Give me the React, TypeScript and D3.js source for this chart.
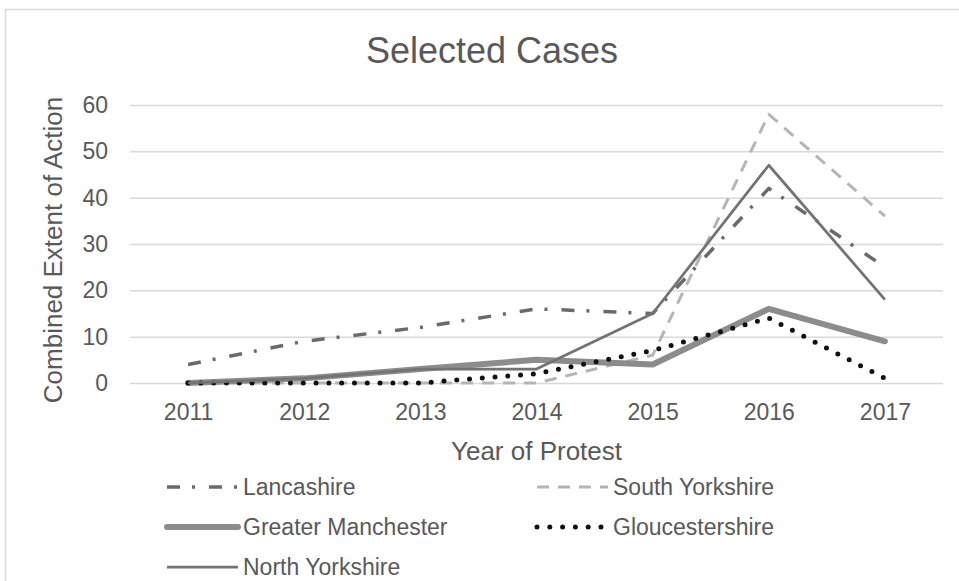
import React, { useEffect, useRef } from "react";
import * as d3 from "d3";

const years = ["2011", "2012", "2013", "2014", "2015", "2016", "2017"];
const seriesNames = [
  "Lancashire",
  "South Yorkshire",
  "Greater Manchester",
  "Gloucestershire",
  "North Yorkshire"
];
const lancashire = [4, 9, 12, 16, 15, 42, 25];
const southYorkshire = [0, 0, 0, 0, 6, 58, 36];
const greaterManchester = [0, 1, 3, 5, 4, 16, 9];
const gloucestershire = [0, 0, 0, 2, 7, 14, 1];
const northYorkshire = [0, 1, 3, 3, 15, 47, 18];
const yTicks = [0, 10, 20, 30, 40, 50, 60];

const seriesValues: Record<string, number[]> = {
  Lancashire: lancashire,
  "South Yorkshire": southYorkshire,
  "Greater Manchester": greaterManchester,
  Gloucestershire: gloucestershire,
  "North Yorkshire": northYorkshire
};

// look of each line (legend uses the same)
const lineStyles: Record<string, any> = {
  Lancashire: { stroke: "#6a6a6a", width: 3.5, dash: "13 12 3 14", cap: "butt" },
  "South Yorkshire": { stroke: "#b5b5b5", width: 3, dash: "12 9", cap: "butt" },
  "Greater Manchester": { stroke: "#8c8c8c", width: 6, dash: null, cap: "round" },
  Gloucestershire: { stroke: "#111111", width: 5, dash: "0 12.8", cap: "round" },
  "North Yorkshire": { stroke: "#737373", width: 2.75, dash: null, cap: "butt" }
};

const FONT = "'Liberation Sans', Arial, sans-serif";
const TEXT = "#595959";

export default function App() {
  const ref = useRef<SVGSVGElement>(null);

  useEffect(() => {
    const svg = d3.select(ref.current);
    svg.selectAll("*").remove();

    const left = 130;
    const right = 943;
    const top = 105;
    const bottom = 383;

    // chart frame
    svg
      .append("rect")
      .attr("x", 5.5)
      .attr("y", 9.5)
      .attr("width", 1000)
      .attr("height", 700)
      .attr("fill", "#ffffff")
      .attr("stroke", "#d9d9d9")
      .attr("stroke-width", 1.5);

    var x = d3
      .scalePoint()
      .domain(years)
      .range([left, right])
      .padding(0.5);

    var y = d3
      .scaleLinear()
      .domain([0, 60])
      .range([bottom, top]);

    // horizontal gridlines
    const yGrid = d3
      .axisLeft(y)
      .tickValues(yTicks)
      .tickSize(-(right - left))
      .tickFormat(() => "");
    const grid = svg
      .append("g")
      .attr("transform", "translate(" + left + ",0)")
      .call(yGrid as any);
    grid.select(".domain").remove();
    grid
      .selectAll("line")
      .attr("stroke", "#d9d9d9")
      .attr("stroke-width", 1.5);

    // y axis labels
    const yAxis = d3
      .axisLeft(y)
      .tickValues(yTicks)
      .tickSize(0)
      .tickPadding(22);
    const ya = svg
      .append("g")
      .attr("transform", "translate(" + left + ",0)")
      .call(yAxis as any);
    ya.select(".domain").remove();
    ya.selectAll("text")
      .attr("fill", TEXT)
      .style("font-family", FONT)
      .style("font-size", "23px");

    // x axis labels
    const xAxis = d3.axisBottom(x).tickSize(0).tickPadding(21);
    const xa = svg
      .append("g")
      .attr("transform", "translate(0," + bottom + ")")
      .call(xAxis as any);
    xa.select(".domain").remove();
    xa.selectAll("text")
      .attr("fill", TEXT)
      .style("font-family", FONT)
      .style("font-size", "23px");

    // lines
    const line = d3
      .line<number>()
      .x((d, i) => x(years[i]) as number)
      .y(d => y(d));

    seriesNames.forEach(name => {
      const st = lineStyles[name];
      svg
        .append("path")
        .datum(seriesValues[name])
        .attr("fill", "none")
        .attr("stroke", st.stroke)
        .attr("stroke-width", st.width)
        .attr("stroke-linecap", st.cap)
        .attr("stroke-linejoin", "round")
        .attr("stroke-dasharray", st.dash)
        .attr("d", line);
    });

    // title
    svg
      .append("text")
      .attr("x", 492)
      .attr("y", 63)
      .attr("text-anchor", "middle")
      .attr("fill", TEXT)
      .style("font-family", FONT)
      .style("font-size", "36px")
      .text("Selected Cases");

    // axis titles
    svg
      .append("text")
      .attr("transform", "translate(62,250) rotate(-90)")
      .attr("text-anchor", "middle")
      .attr("fill", TEXT)
      .style("font-family", FONT)
      .style("font-size", "26px")
      .text("Combined Extent of Action");
    svg
      .append("text")
      .attr("x", (left + right) / 2)
      .attr("y", 460)
      .attr("text-anchor", "middle")
      .attr("fill", TEXT)
      .style("font-family", FONT)
      .style("font-size", "26px")
      .text("Year of Protest");

    // legend, two columns
    seriesNames.forEach((name, i) => {
      const st = lineStyles[name];
      const lx = i % 2 === 0 ? 167 : 537;
      const ly = 487 + Math.floor(i / 2) * 40;
      svg
        .append("line")
        .attr("x1", lx)
        .attr("x2", lx + 71)
        .attr("y1", ly)
        .attr("y2", ly)
        .attr("stroke", st.stroke)
        .attr("stroke-width", st.width)
        .attr("stroke-linecap", st.cap)
        .attr("stroke-dasharray", st.dash);
      svg
        .append("text")
        .attr("x", lx + 76)
        .attr("y", ly + 8)
        .attr("fill", TEXT)
        .style("font-family", FONT)
        .style("font-size", "23px")
        .text(name);
    });
  }, []);

  return (
    <svg
      ref={ref}
      width={959}
      height={581}
      style={{ position: "absolute", left: 0, top: 0 }}
    />
  );
}
